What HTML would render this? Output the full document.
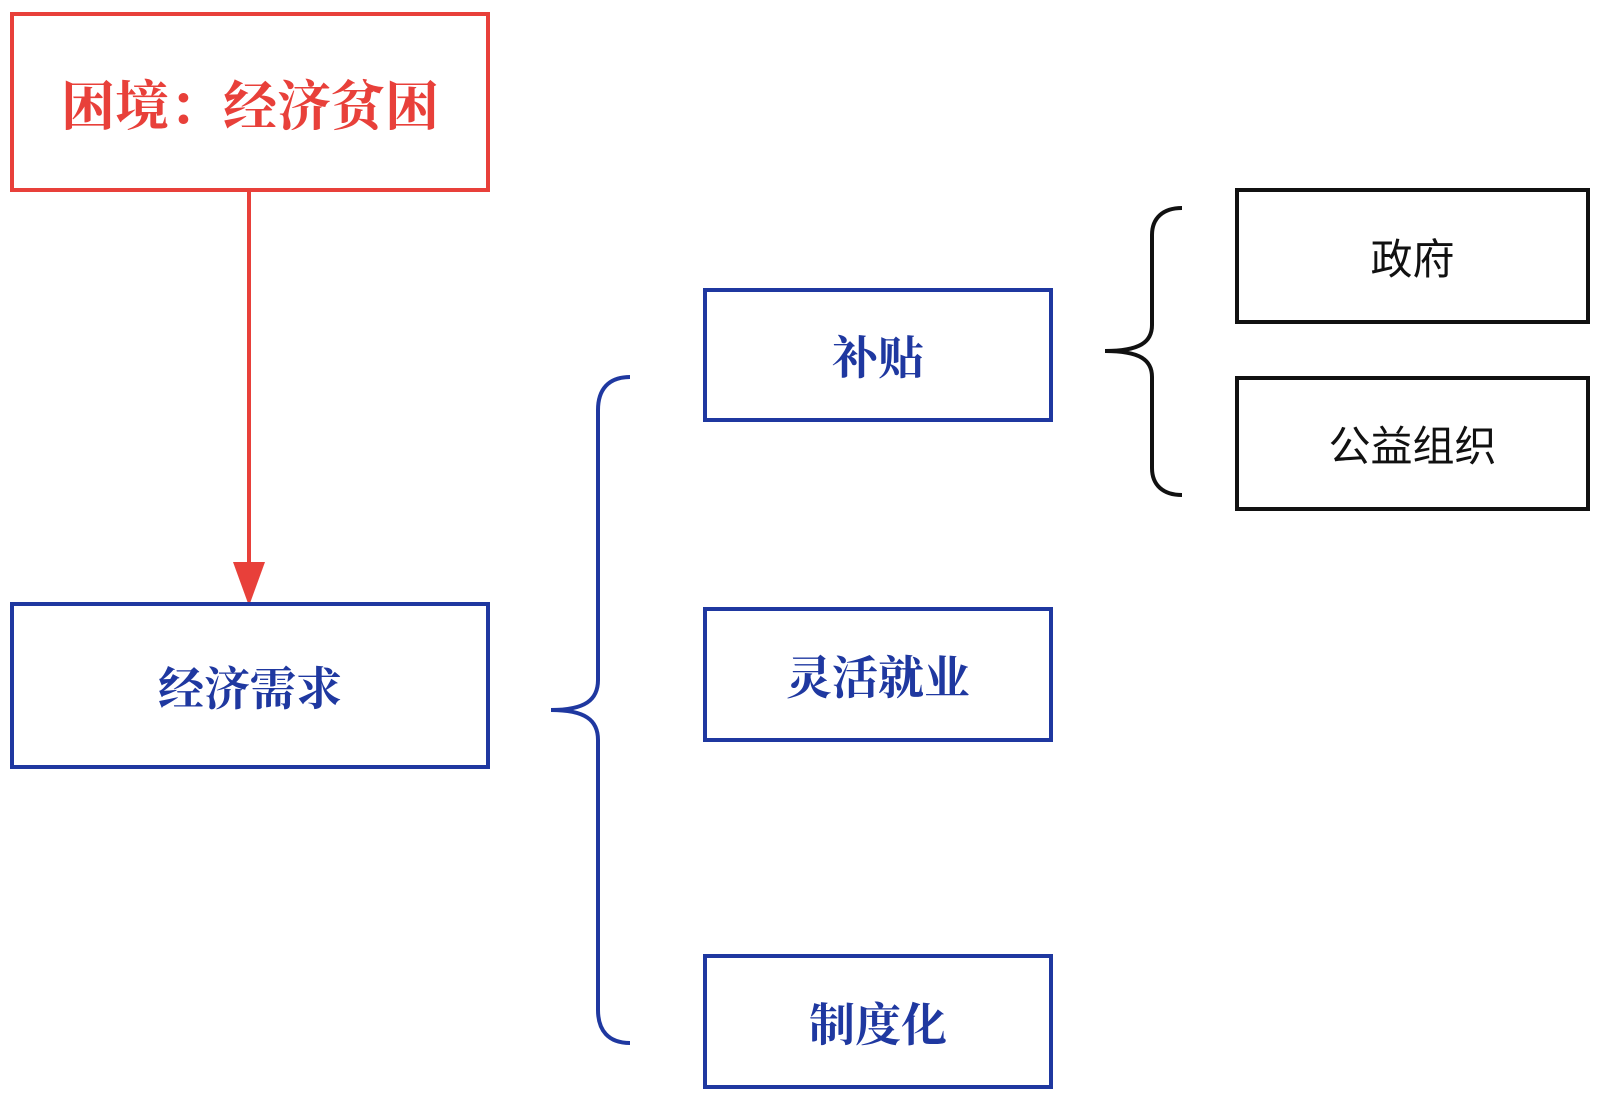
<!DOCTYPE html>
<html><head><meta charset="utf-8"><style>
html,body{margin:0;padding:0;background:#fff;width:1600px;height:1101px;overflow:hidden}
.b{position:absolute;box-sizing:border-box;display:flex;align-items:center;justify-content:center}
.r{border:4px solid #e8403a;color:#e8403a;font:bold 54px "Liberation Serif","Noto Serif CJK SC",serif}
.u{border:4px solid #1f38a0;color:#1f38a0;font:bold 46px "Liberation Serif","Noto Serif CJK SC",serif}
.k{border:4px solid #111;color:#111;font:42px "Liberation Sans","Noto Sans CJK SC",sans-serif}
</style></head><body>
<svg width="1600" height="1101" style="position:absolute;left:0;top:0">
<line x1="249" y1="190" x2="249" y2="570" stroke="#e8403a" stroke-width="4"/>
<polygon points="233,562 265,562 249,606" fill="#e8403a"/>
<path d="M630,377 C608,377 598,390 598,410 L598,680 C598,700 585,710 551,710 C585,710 598,720 598,740 L598,1010 C598,1030 608,1043 630,1043" fill="none" stroke="#1f38a0" stroke-width="4"/>
<path d="M1182,208 C1163,208 1152,218 1152,235 L1152,325 C1152,342 1140,351 1105,351 C1140,351 1152,360 1152,377 L1152,468 C1152,485 1163,495 1182,495" fill="none" stroke="#111" stroke-width="4"/>
</svg>
<div class="b r" style="left:10px;top:12px;width:480px;height:180px">困境：经济贫困</div>
<div class="b u" style="left:10px;top:602px;width:480px;height:167px">经济需求</div>
<div class="b u" style="left:703px;top:288px;width:350px;height:134px">补贴</div>
<div class="b u" style="left:703px;top:607px;width:350px;height:135px">灵活就业</div>
<div class="b u" style="left:703px;top:954px;width:350px;height:135px">制度化</div>
<div class="b k" style="left:1235px;top:188px;width:355px;height:136px">政府</div>
<div class="b k" style="left:1235px;top:376px;width:355px;height:135px">公益组织</div>
</body></html>
